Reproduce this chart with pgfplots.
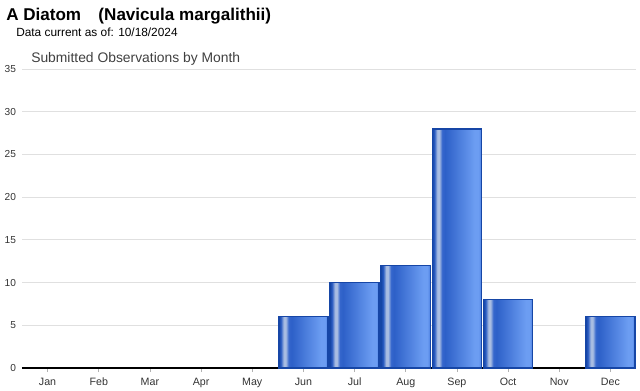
\documentclass[border=0pt]{standalone}
\usepackage{fontspec}
\setmainfont{Liberation Sans}
\usepackage{pgfplots}
\pgfplotsset{compat=1.18}
\definecolor{edgeblue}{HTML}{1646A6}
\definecolor{gridgray}{HTML}{E0E0E0}
\definecolor{bA}{HTML}{2A5CC2}
\definecolor{bHL}{HTML}{A9BDE2}
\definecolor{bB}{HTML}{3566CC}
\definecolor{bC}{HTML}{2D60C8}
\definecolor{bD}{HTML}{6C9DF2}
\definecolor{bE}{HTML}{4A7EE0}
\pgfdeclarehorizontalshading{barshade}{100bp}{%
  color(0bp)=(edgeblue);
  color(25bp)=(edgeblue);
  color(27bp)=(bA);
  color(30bp)=(bHL);
  color(32bp)=(bHL);
  color(35bp)=(bB);
  color(38bp)=(bC);
  color(68bp)=(bD);
  color(72bp)=(bD);
  color(75bp)=(bE);
  color(100bp)=(bE)}
\pgfplotsset{roundbar/.style={draw=edgeblue, line width=1.1pt, shading=barshade}}
\begin{document}
\begin{tikzpicture}[x=1pt,y=1pt]
\path[use as bounding box] (0,0) rectangle (480,292.5);
\node[anchor=base west,font=\bfseries\fontsize{12.8}{14}\selectfont,inner sep=0pt] at (4.5,276.75) {A Diatom\hspace{13pt}(Navicula margalithii)};
\node[anchor=base west,font=\fontsize{8.9}{10}\selectfont,inner sep=0pt] at (12,264.75) {Data current as of: 10/18/2024};
\node[anchor=base west,font=\fontsize{10.4}{12}\selectfont,text=black!75,inner sep=0pt] at (23.25,245.25) {Submitted Observations by Month};
\begin{axis}[
  at={(16.5pt,16.5pt)}, anchor=south west,
  scale only axis, width=460.5pt, height=224.25pt,
  xmin=-0.5, xmax=11.5, ymin=0, ymax=35,
  ytick={0,5,...,35},
  xtick={0,...,11},
  xticklabels={Jan,Feb,Mar,Apr,May,Jun,Jul,Aug,Sep,Oct,Nov,Dec},
  axis x line*=bottom, axis y line*=left,
  y axis line style={draw=none},
  x axis line style={black, line width=1.1pt},
  ymajorgrids, grid style={gridgray, line width=0.6pt},
  ytick style={draw=none},
  xtick style={draw=black!30, line width=0.5pt},
  xtick align=outside, major tick length=3pt,
  tick label style={font=\fontsize{7.6}{9}\selectfont, text=black!80},
  xticklabel style={font=\fontsize{8}{10}\selectfont, yshift=-1pt},
  yticklabel style={xshift=-1pt},
  /pgf/number format/assume math mode=true,
  ybar, bar width=0.96, bar shift=0pt,
]
\addplot[roundbar] coordinates {(5,6)};
\addplot[roundbar] coordinates {(6,10)};
\addplot[roundbar] coordinates {(7,12)};
\addplot[roundbar] coordinates {(8,28)};
\addplot[roundbar] coordinates {(9,8)};
\addplot[roundbar] coordinates {(11,6)};
\end{axis}
\end{tikzpicture}
\end{document}
